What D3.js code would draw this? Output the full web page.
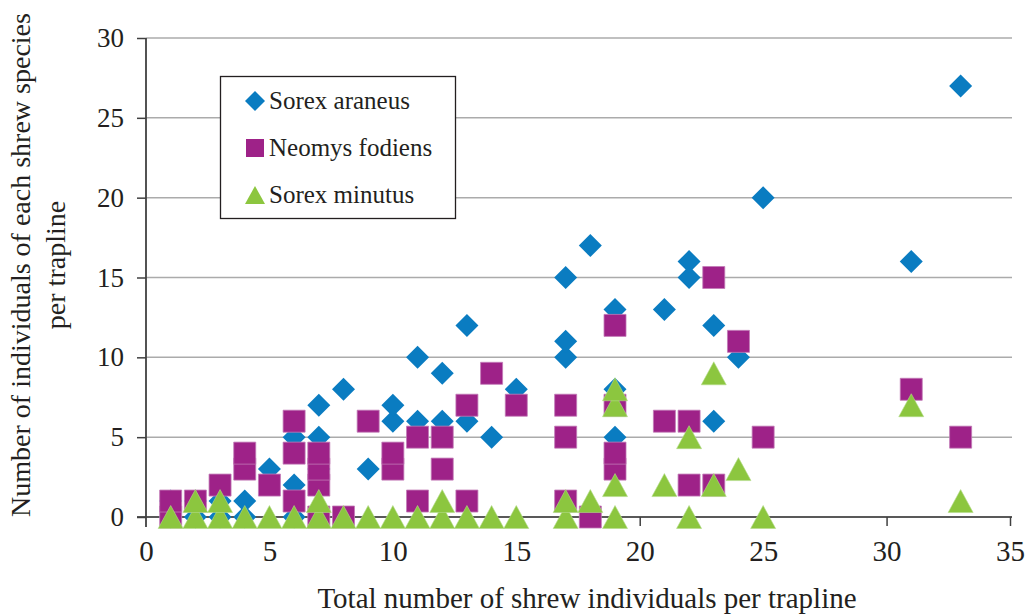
<!DOCTYPE html>
<html>
<head>
<meta charset="utf-8">
<script src="https://cdn.jsdelivr.net/npm/d3@7"></script>
<style>
  body { margin: 0; background: #fff; }
</style>
</head>
<body>
<div id="chart"></div>
<script>
// values: [total per trapline, count]
const sorexAraneus = [
  [1,0],[1,1],[2,0],[2,1],[3,0],[3,1],[4,0],[4,1],[5,3],[6,0],[6,2],[6,5],
  [7,3],[7,5],[7,7],[8,8],[9,3],[10,6],[10,7],[11,6],[11,10],[12,6],[12,9],
  [13,6],[13,12],[14,5],[15,8],[17,10],[17,11],[17,15],[18,17],[19,5],[19,8],
  [19,13],[21,13],[22,15],[22,16],[23,6],[23,12],[24,10],[25,20],[31,16],[33,27]
];
const neomysFodiens = [
  [1,0],[1,1],[2,1],[3,2],[4,3],[4,4],[5,2],[6,1],[6,4],[6,6],[7,0],[7,2],
  [7,3],[7,4],[8,0],[9,6],[10,3],[10,4],[11,1],[11,5],[12,3],[12,5],[13,1],
  [13,7],[14,9],[15,7],[17,1],[17,5],[17,7],[18,0],[19,3],[19,4],[19,7],
  [19,12],[21,6],[22,2],[22,6],[23,2],[23,15],[24,11],[25,5],[31,8],[33,5]
];
const sorexMinutus = [
  [1,0],[2,0],[2,1],[3,0],[3,1],[4,0],[5,0],[6,0],[7,0],[7,1],[8,0],[9,0],
  [10,0],[11,0],[12,0],[12,1],[13,0],[14,0],[15,0],[17,0],[17,1],[18,1],
  [19,0],[19,2],[19,7],[19,8],[21,2],[22,0],[22,5],[23,2],[23,9],[24,3],
  [25,0],[31,7],[33,1]
];
const seriesNames = ["Sorex araneus", "Neomys fodiens", "Sorex minutus"];
const seriesColors = ["#0a7cc1", "#9e2288", "#8cc63f"];
const xTicks = [0, 5, 10, 15, 20, 25, 30, 35];
const yTicks = [0, 5, 10, 15, 20, 25, 30];

const W = 1033, H = 616;
const FONT = "'Liberation Serif', 'Times New Roman', Times, serif";
const INK = "#231f20";
const x = d3.scaleLinear().domain([0, 35]).range([146, 1010]);
const y = d3.scaleLinear().domain([0, 30]).range([517, 38]);

const svg = d3.select("#chart").append("svg")
  .attr("width", W).attr("height", H)
  .attr("font-family", FONT);

// gridlines
svg.append("g")
  .selectAll("line")
  .data(yTicks.filter(d => d > 0))
  .join("line")
  .attr("x1", x(0)).attr("x2", x(35) + 2)
  .attr("y1", d => y(d)).attr("y2", d => y(d))
  .attr("stroke", "#ababab").attr("stroke-width", 1.5);

// axes
const xAxis = svg.append("g")
  .attr("transform", `translate(0,${y(0)})`)
  .call(d3.axisBottom(x).tickValues(xTicks).tickSize(9).tickPadding(14))
  .attr("font-family", null).attr("font-size", null);
const yAxis = svg.append("g")
  .attr("transform", `translate(${x(0)},0)`)
  .call(d3.axisLeft(y).tickValues(yTicks).tickSize(9).tickPadding(13))
  .attr("font-family", null).attr("font-size", null);

xAxis.select(".domain").attr("d", `M${x(0) - 9},0H${x(35) + 2}`)
  .attr("stroke", "#595959").attr("stroke-width", 2.2);
yAxis.select(".domain").attr("d", `M0,${y(30)}V${y(0) + 10}`)
  .attr("stroke", "#404040").attr("stroke-width", 1.8);
xAxis.selectAll(".tick line").attr("stroke", "#404040").attr("stroke-width", 1.5);
yAxis.selectAll(".tick line").attr("stroke", "#404040").attr("stroke-width", 1.5);
xAxis.selectAll(".tick text")
  .attr("font-family", FONT).attr("font-size", 29).attr("fill", INK);
yAxis.selectAll(".tick text")
  .attr("font-family", FONT).attr("font-size", 27).attr("fill", INK);
xAxis.selectAll(".tick").filter(d => d === 0).select("line").remove();

// axis titles
svg.append("text")
  .attr("x", 587).attr("y", 608)
  .attr("text-anchor", "middle")
  .attr("font-family", FONT).attr("font-size", 29).attr("fill", INK)
  .text("Total number of shrew individuals per trapline");
const yTitle = svg.append("text")
  .attr("transform", "translate(0,265) rotate(-90)")
  .attr("text-anchor", "middle")
  .attr("font-family", FONT).attr("font-size", 28).attr("fill", INK);
yTitle.append("tspan").attr("x", 0).attr("y", 30).text("Number of individuals of each shrew species");
yTitle.append("tspan").attr("x", 0).attr("y", 65).text("per trapline");

// marker shapes
const diamond = s => `M0,${-s}L${s},0L0,${s}L${-s},0Z`;
const square = s => `M${-s},${-s}H${s}V${s}H${-s}Z`;
const triangle = (w, h) => `M0,${-h / 2}L${w / 2},${h / 2}L${-w / 2},${h / 2}Z`;

const marks = svg.append("g");
marks.append("g").selectAll("path")
  .data(sorexAraneus).join("path")
  .attr("transform", d => `translate(${x(d[0])},${y(d[1])})`)
  .attr("d", diamond(11.5))
  .attr("fill", seriesColors[0]);
marks.append("g").selectAll("path")
  .data(neomysFodiens).join("path")
  .attr("transform", d => `translate(${x(d[0])},${y(d[1])})`)
  .attr("d", square(11))
  .attr("fill", seriesColors[1])
  .attr("stroke", "#c27ab6").attr("stroke-width", 0.8);
marks.append("g").selectAll("path")
  .data(sorexMinutus).join("path")
  .attr("transform", d => `translate(${x(d[0])},${y(d[1])})`)
  .attr("d", triangle(25, 23))
  .attr("fill", seriesColors[2])
  .attr("stroke", "#b4dc8a").attr("stroke-width", 0.6);

// legend
const legend = svg.append("g");
legend.append("rect")
  .attr("x", 220.5).attr("y", 76.5).attr("width", 235).attr("height", 142)
  .attr("fill", "#fff").attr("stroke", INK).attr("stroke-width", 1.3);
const shapes = [diamond(10), square(9), triangle(20, 18)];
const rows = legend.selectAll("g.row")
  .data(seriesNames).join("g")
  .attr("class", "row")
  .attr("transform", (d, i) => `translate(255,${101 + i * 47})`);
rows.append("path")
  .attr("d", (d, i) => shapes[i])
  .attr("fill", (d, i) => seriesColors[i]);
rows.append("text")
  .attr("x", 14).attr("y", 8)
  .attr("font-family", FONT).attr("font-size", 25).attr("fill", INK)
  .text(d => d);
</script>
</body>
</html>
